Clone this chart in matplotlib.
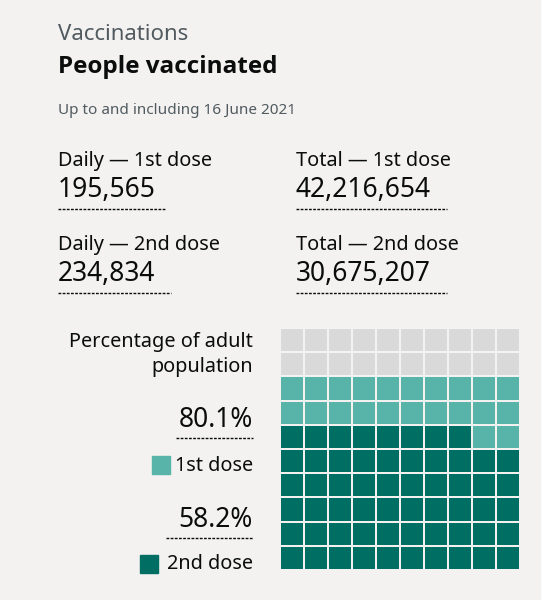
import matplotlib
matplotlib.use("Agg")
import matplotlib.pyplot as plt
from matplotlib.patches import Rectangle

title_small = "Vaccinations"
title_big = "People vaccinated"
subtitle = "Up to and including 16 June 2021"
metric_labels = ["Daily — 1st dose", "Total — 1st dose", "Daily — 2nd dose", "Total — 2nd dose"]
metric_values = ["195,565", "42,216,654", "234,834", "30,675,207"]
pct_first = 80.1
pct_second = 58.2
pct_labels = ["80.1%", "58.2%"]
legend_labels = ["1st dose", "2nd dose"]

BG = "#f3f2f1"; DARK = "#006e63"; LIGHT = "#58b4a9"; GREY = "#d9d9d9"; TXT = "#0b0c0c"
FONT = ["Noto Sans", "DejaVu Sans"]

fig = plt.figure(figsize=(5.5, 6), dpi=100)
fig.patch.set_facecolor("white")
ax = fig.add_axes([0, 0, 1, 1])
ax.set_xlim(0, 550); ax.set_ylim(600, 0); ax.axis("off")
ax.add_patch(Rectangle((0, 0), 540, 600, color=BG, zorder=0))

ax.text(58, 34, title_small, fontsize=16, color="#505a5f", va="center", family=FONT)
ax.text(58, 67, title_big, fontsize=17.5, weight="bold", color=TXT, va="center", family=["Open Sans", "DejaVu Sans"])
ax.text(58, 110, subtitle, fontsize=11, color="#505a5f", va="center", family=FONT)

pos = [(58, 161), (296, 161), (58, 245), (296, 245)]
widths = [107, 151, 113, 151]
for (x, y), lab, val, w in zip(pos, metric_labels, metric_values, widths):
    ax.text(x, y, lab, fontsize=14.3, color=TXT, va="center", family=FONT)
    ax.text(x, y + 29, val, fontsize=19, color=TXT, va="center", family=FONT)
    ax.plot([x, x + w], [y + 48, y + 48], ls=(0, (2, 1)), color=TXT, lw=1)

ax.text(253, 342, "Percentage of adult", fontsize=14.3, color=TXT, va="center", ha="right", family=FONT)
ax.text(253, 367, "population", fontsize=14.3, color=TXT, va="center", ha="right", family=FONT)
ax.text(253, 420, pct_labels[0], fontsize=19, color=TXT, va="center", ha="right", family=FONT)
ax.plot([176, 253], [438, 438], ls=(0, (2, 1)), color=TXT, lw=1)
ax.add_patch(Rectangle((152, 456), 18, 18, color=LIGHT))
ax.text(253, 466, legend_labels[0], fontsize=14.3, color=TXT, va="center", ha="right", family=FONT)
ax.text(253, 520, pct_labels[1], fontsize=19, color=TXT, va="center", ha="right", family=FONT)
ax.plot([166, 253], [538, 538], ls=(0, (2, 1)), color=TXT, lw=1)
ax.add_patch(Rectangle((140, 555), 18, 18, color=DARK))
ax.text(253, 564, legend_labels[1], fontsize=14.3, color=TXT, va="center", ha="right", family=FONT)

# waffle
wax = fig.add_axes([280/550, 1 - 570/600, 240/550, 242/600])
wax.set_xlim(0, 10); wax.set_ylim(0, 10); wax.axis("off")
n2 = round(pct_second); n1 = round(pct_first)
for i in range(100):
    row, col = divmod(i, 10)
    c = DARK if i < n2 else (LIGHT if i < n1 else GREY)
    wax.add_patch(Rectangle((col + 0.04, row + 0.04), 0.92, 0.92, color=c, lw=0))

fig.savefig("out.png", dpi=100, facecolor=fig.get_facecolor())
